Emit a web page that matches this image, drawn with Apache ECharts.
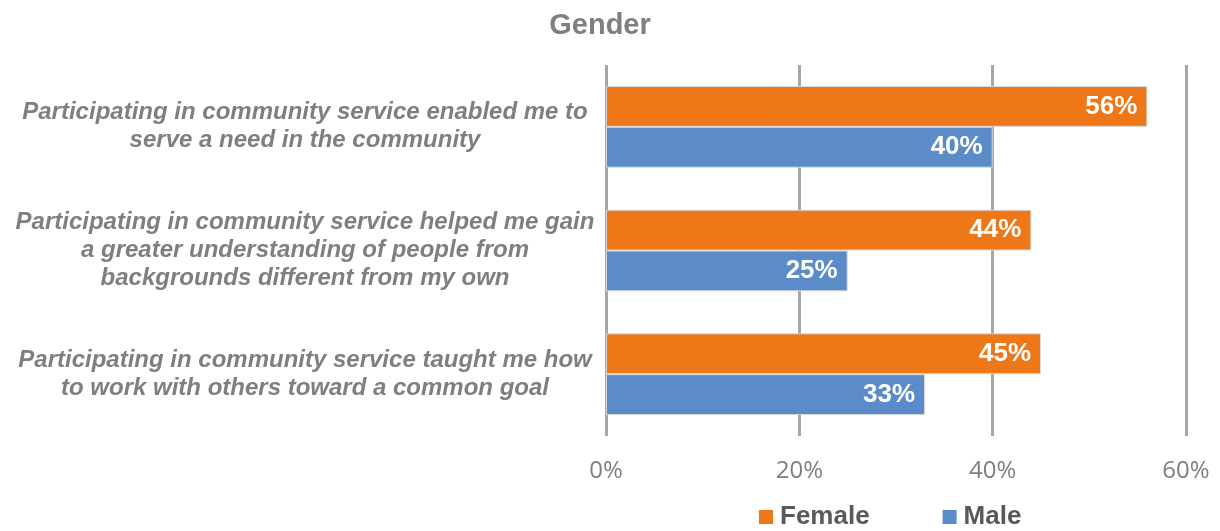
<!DOCTYPE html>
<html>
<head>
<meta charset="utf-8">
<script src="https://cdn.jsdelivr.net/npm/echarts@6/dist/echarts.min.js"></script>
<style>
  html, body { margin: 0; padding: 0; background: #ffffff; }
  #chart { width: 1220px; height: 531px; }
</style>
</head>
<body>
<div id="chart"></div>
<script>
// Survey statements (line breaks as they are wrapped on the axis)
const categories = [
  'Participating in community service enabled me to\nserve a need in the community',
  'Participating in community service helped me gain\na greater understanding of people from\nbackgrounds different from my own',
  'Participating in community service taught me how\nto work with others toward a common goal'
];
// Share of respondents agreeing, in percent
const femaleValues = [56, 44, 45];
const maleValues = [40, 25, 33];
const xTicks = [0, 20, 40, 60];

const chart = echarts.init(document.getElementById('chart'), null, { renderer: 'canvas' });

const barLabel = {
  show: true,
  position: 'insideRight',
  distance: 10,
  formatter: p => p.value + '%',
  color: '#ffffff',
  fontFamily: 'Liberation Sans, Arial, sans-serif',
  fontWeight: 'bold',
  fontSize: 26
};

chart.setOption({
  animation: false,
  backgroundColor: '#ffffff',
  title: {
    text: 'Gender',
    left: 595,
    textAlign: 'center',
    top: 6,
    textStyle: {
      fontFamily: 'Liberation Sans, Arial, sans-serif',
      fontWeight: 'bold',
      fontSize: 29,
      color: '#7f7f7f'
    }
  },
  legend: {
    data: ['Female', 'Male'],
    left: 759,
    top: 504,
    padding: 0,
    itemWidth: 14,
    itemHeight: 14,
    itemGap: 73,
    icon: 'rect',
    itemStyle: { borderWidth: 0 },
    textStyle: {
      fontFamily: 'Liberation Sans, Arial, sans-serif',
      fontWeight: 'bold',
      fontSize: 26,
      color: '#595959',
      padding: [0, 0, 0, 2]
    }
  },
  grid: {
    left: 606,
    right: 34,
    top: 65,
    bottom: 95,
    containLabel: false
  },
  xAxis: {
    type: 'value',
    min: xTicks[0],
    max: xTicks[xTicks.length - 1],
    interval: xTicks[1] - xTicks[0],
    axisLine: { show: false },
    axisTick: { show: false },
    splitLine: { show: true, lineStyle: { color: '#a6a6a6', width: 3 } },
    axisLabel: {
      formatter: v => v + '%',
      margin: 23,
      fontFamily: 'Open Sans, Liberation Sans, sans-serif',
      fontSize: 24,
      color: '#7f7f7f'
    }
  },
  yAxis: {
    type: 'category',
    data: categories,
    inverse: true,
    axisLine: { show: false },
    axisTick: { show: false },
    splitLine: { show: false },
    axisLabel: {
      align: 'center',
      margin: 301,
      lineHeight: 28,
      fontFamily: 'Liberation Sans, Arial, sans-serif',
      fontWeight: 'bold',
      fontStyle: 'italic',
      fontSize: 24,
      color: '#7f7f7f'
    }
  },
  series: [
    {
      name: 'Female',
      type: 'bar',
      data: femaleValues,
      barGap: '0%',
      barCategoryGap: '34%',
      itemStyle: { color: '#ee7718', borderColor: '#d9d9d9', borderWidth: 1 },
      label: barLabel
    },
    {
      name: 'Male',
      type: 'bar',
      data: maleValues,
      itemStyle: { color: '#5b8bc9', borderColor: '#d9d9d9', borderWidth: 1 },
      label: barLabel
    }
  ]
});
</script>
</body>
</html>
